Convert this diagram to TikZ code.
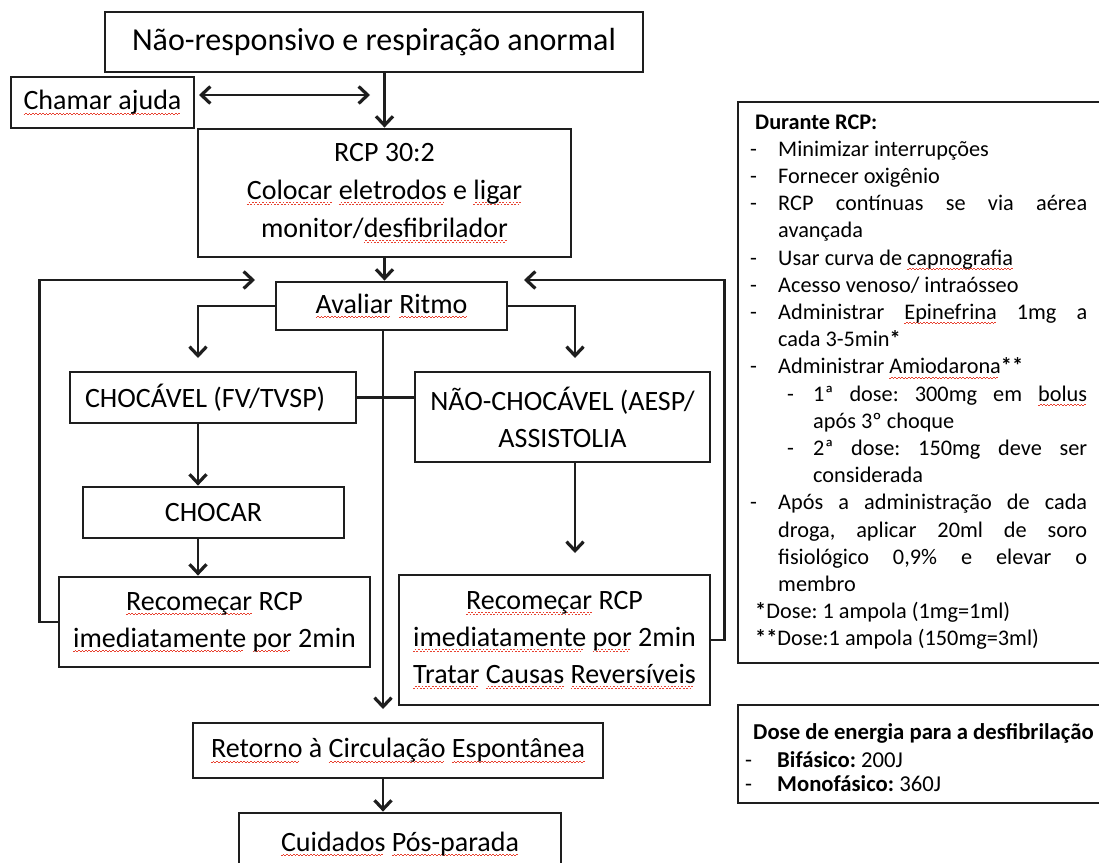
\documentclass[tikz,border=0pt]{standalone}
\usepackage{fontspec}
\setmainfont{Carlito}
\usetikzlibrary{arrows.meta,calc}
\definecolor{squig}{HTML}{E8412F}
\definecolor{ink}{HTML}{1E1E1E}
\newcommand\sqw[1]{\setbox0=\hbox{#1}\rlap{\color{squig}\hbox to \wd0{\leaders\hbox to 3.4pt{\rule[-5pt]{1.7pt}{1pt}\rule[-3.8pt]{1.7pt}{1pt}}\hfill}}\box0\relax}
\tikzset{
  box/.style={draw=ink, line width=2.8pt, inner sep=0pt, align=center, font=\fontsize{28}{37}\selectfont},
  ln/.style={draw=ink, line width=2.8pt},
  tipb/.tip={Straight Barb[length=9pt,width=17pt,line width=3.2pt]},
  arr/.style={ln, -tipb},
  darr/.style={ln, tipb-tipb},
  rt/.style={font=\fontsize{22.3}{27}\selectfont, inner sep=0pt, anchor=base west},
  dt/.style={font=\fontsize{22.7}{27}\selectfont, inner sep=0pt, anchor=base west},
  side/.style={draw=ink, line width=2.4pt, inner sep=0pt},
}
\begin{document}
\frenchspacing
\begin{tikzpicture}[x=1pt,y=-1pt]
\useasboundingbox (0,0) rectangle (1099,862);
\clip (0,0) rectangle (1099,862);

% flowchart boxes
\node[box, minimum width=538, minimum height=60, font=\fontsize{32}{36}\selectfont] (top) at (374,42) {Não-responsivo e respiração anormal};
\node[box, minimum width=183, minimum height=51] (chamar) at (102.5,102.5) {\sqw{Chamar ajuda}};
\node[box, minimum width=373, minimum height=128, font=\fontsize{28}{38}\selectfont] (rcp) at (384.5,193) {RCP 30:2\\\sqw{Colocar} \sqw{eletrodos} e \sqw{ligar}\\monitor/\sqw{desfibrilador}};
\node[box, minimum width=231, minimum height=48] (aval) at (391.5,306) {\sqw{Avaliar} \sqw{Ritmo}};
\node[box, minimum width=286, minimum height=51] (choc) at (213,397.5) {\makebox[256pt][l]{CHOCÁVEL (FV/TVSP)}};
\node[box, minimum width=295, minimum height=90] (nchoc) at (562.5,417) {NÃO-CHOCÁVEL (AESP/\\ASSISTOLIA};
\node[box, minimum width=261, minimum height=51] (chocar) at (213.5,512.5) {CHOCAR};
\node[box, minimum width=311, minimum height=90] (recL) at (214.5,622) {\sqw{Recomeçar} RCP\\\sqw{imediatamente} \sqw{por} 2min};
\node[box, minimum width=311, minimum height=130] (recR) at (554.5,640) {\sqw{Recomeçar} RCP\\\sqw{imediatamente} \sqw{por} 2min\\\sqw{Tratar} \sqw{Causas} \sqw{Reversíveis}};
\node[box, minimum width=410, minimum height=55] (ret) at (398,750.5) {\sqw{Retorno} à \sqw{Circulação} \sqw{Espontânea}};
\node[box, minimum width=322, minimum height=62] (cuid) at (400,844) {\sqw{Cuidados} \sqw{Pós-parada}};

% connectors
\coordinate (da1) at (199,95);
\coordinate (da2) at (370,95);
\draw[darr] (da1) -- (da2);
\draw[arr] (top.south -| rcp.north) -- (rcp.north);
\draw[arr] (rcp.south) -- (rcp.south |- aval.north);
\coordinate (cL) at (198,358);
\coordinate (cR) at (575,358);
\draw[arr] (aval.west) -| (cL);
\draw[arr] (aval.east) -| (cR);
\coordinate (cM) at (383,709);
\draw[arr] (aval.south -| cM) -- (cM);
\draw[ln] (choc.east) -- (choc.east -| nchoc.west);
\draw[arr] (choc.south -| cL) -- (chocar.north -| cL);
\draw[arr] (chocar.south -| cL) -- (recL.north -| cL);
\coordinate (cN) at (575,553);
\draw[arr] (nchoc.south -| cN) -- (cN);
\coordinate (lt) at (255,280);
\coordinate (rtp) at (524,280);
\draw[arr] (recL.west) -- ++(-18,0) |- (lt);
\draw[arr] (recR.east) -- ++(13,0) |- (rtp);
\draw[arr] (ret.south -| cM) -- (cuid.north -| cM);

% side box: Durante RCP
\node[side, minimum width=373, minimum height=561] (rbox) at (924.5,382.5) {};
\node[rt] (t0) at (755,129) {\textbf{Durante RCP:}};
\node[rt] (d1) at (750,156.2) {-};
\node[rt] (t1) at (778,156.2) {Minimizar interrupções};
\node[rt] (d2) at (750,183.4) {-};
\node[rt] (t2) at (778,183.4) {Fornecer oxigênio};
\node[rt] (d3) at (750,210.6) {-};
\node[rt] (t3) at (778,210.6) {\makebox[309pt][s]{RCP contínuas se via aérea}};
\node[rt] (t4) at (778,237.8) {avançada};
\node[rt] (d5) at (750,265) {-};
\node[rt] (t5) at (778,265) {Usar curva de \sqw{capnografia}};
\node[rt] (d6) at (750,292.2) {-};
\node[rt] (t6) at (778,292.2) {Acesso venoso/ intraósseo};
\node[rt] (d7) at (750,319.4) {-};
\node[rt] (t7) at (778,319.4) {\makebox[309pt][s]{Administrar \sqw{Epinefrina} 1mg a}};
\node[rt] (t8) at (778,346.6) {cada 3-5min\textbf{*}};
\node[rt] (d9) at (750,373.8) {-};
\node[rt] (t9) at (778,373.8) {Administrar \sqw{Amiodarona}\textbf{**}};
\node[rt] (d10) at (787,401) {-};
\node[rt] (t10) at (813,401) {\makebox[274pt][s]{1ª dose: 300mg em \sqw{bolus}}};
\node[rt] (t11) at (813,428.2) {após 3º choque};
\node[rt] (d12) at (787,455.4) {-};
\node[rt] (t12) at (813,455.4) {\makebox[274pt][s]{2ª dose: 150mg deve ser}};
\node[rt] (t13) at (813,482.6) {considerada};
\node[rt] (d14) at (750,509.8) {-};
\node[rt] (t14) at (778,509.8) {\makebox[309pt][s]{Após a administração de cada}};
\node[rt] (t15) at (778,537) {\makebox[309pt][s]{droga, aplicar 20ml de soro}};
\node[rt] (t16) at (778,564.2) {\makebox[309pt][s]{fisiológico 0,9\% e elevar o}};
\node[rt] (t17) at (778,591.4) {membro};
\node[rt] (t18) at (755,618.6) {\textbf{*}Dose: 1 ampola (1mg=1ml)};
\node[rt] (t19) at (755,645.8) {\textbf{**}Dose:1 ampola (150mg=3ml)};

% side box: dose de energia
\node[side, minimum width=372, minimum height=98] (dbox) at (924,754) {};
\node[dt] (e0) at (753,739) {\textbf{Dose de energia para a desfibrilação}};
\node[dt] (ed1) at (745,767) {-};
\node[dt] (e1) at (777,767) {\textbf{Bifásico:} 200J};
\node[dt] (ed2) at (745,791) {-};
\node[dt] (e2) at (777,791) {\textbf{Monofásico:} 360J};
\end{tikzpicture}
\end{document}
